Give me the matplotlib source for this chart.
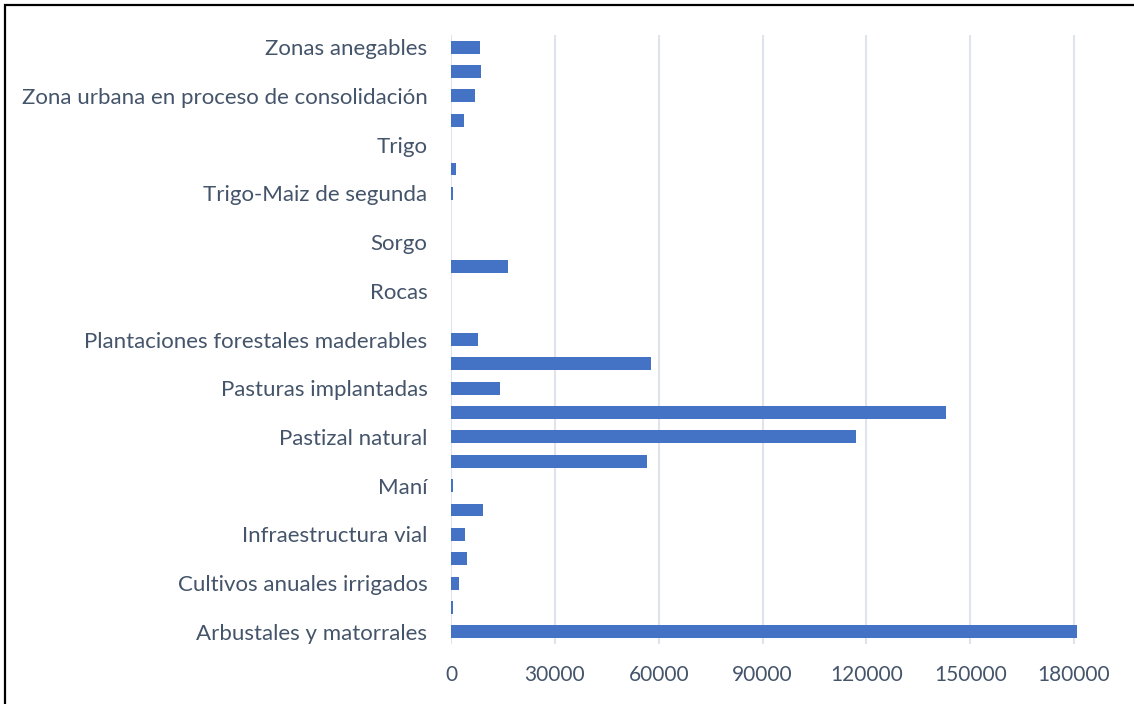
import matplotlib.pyplot as plt
from matplotlib.patches import Rectangle
import numpy as np

plt.rcParams['font.family'] = ['Lato', 'DejaVu Sans']

# superficie por cobertura del suelo (ha), orden alfabetico de abajo hacia arriba
coberturas = [
    'Arbustales y matorrales',
    'Bosque nativo',
    'Cultivos anuales irrigados',
    'Cultivos perennes',
    'Infraestructura vial',
    'Maiz',
    'Maní',
    'Monte',
    'Pastizal natural',
    'Pastizal natural con arbustales',
    'Pasturas implantadas',
    'Peladales y afloramientos',
    'Plantaciones forestales maderables',
    'Plantaciones frutales',
    'Rocas',
    'Soja',
    'Sorgo',
    'Suelo desnudo',
    'Trigo-Maiz de segunda',
    'Trigo-Soja de segunda',
    'Trigo',
    'Zona urbana consolidada',
    'Zona urbana en proceso de consolidación',
    'Zona urbana residencial',
    'Zonas anegables',
]
superficie = [
    180800, 600, 2300, 4600, 4000, 9300, 600, 56700, 117100, 142900,
    14200, 57800, 7800, 0, 0, 16500, 0, 0, 600, 1400,
    0, 3800, 6900, 8700, 8400,
]
xticks = [0, 30000, 60000, 90000, 120000, 150000, 180000]

texto = '#44546A'

fig = plt.figure(figsize=(11.34, 7.04), dpi=100)
ax = fig.add_axes([451 / 1134, 60 / 704, 630 / 1134, 609 / 704])

y = np.arange(len(coberturas))
ax.barh(y, superficie, height=0.53, color='#4472C4', zorder=3)

ax.set_xlim(0, 182000)
ax.set_ylim(-0.5, len(coberturas) - 0.5)
ax.set_xticks(xticks, [str(v) for v in xticks])
ax.set_yticks(y[::2], coberturas[::2])
ax.grid(axis='x', color='#DFE3EB', linewidth=1.5, zorder=0)
ax.tick_params(length=0, colors=texto)
ax.tick_params(axis='x', labelsize=15, pad=15)
ax.tick_params(axis='y', labelsize=16, pad=17)
for s in ax.spines.values():
    s.set_visible(False)

# marco exterior
fig.add_artist(Rectangle((5 / 1134, -0.1), 1.2, 1.1 - 5 / 704,
                         transform=fig.transFigure, fill=False,
                         edgecolor='black', linewidth=1.6))

fig.savefig('out.png', dpi=100)
